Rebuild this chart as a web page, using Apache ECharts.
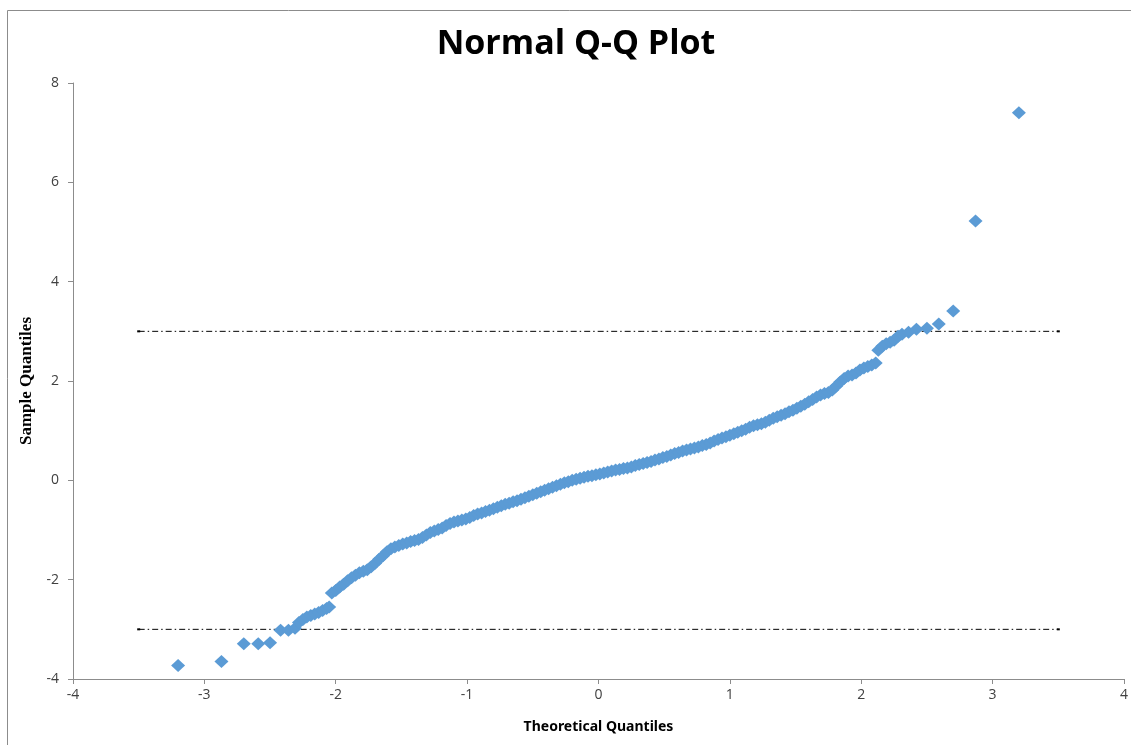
<!DOCTYPE html>
<html>
<head>
<meta charset="utf-8">
<style>
  html, body { margin: 0; padding: 0; background: #ffffff; }
  #chart { width: 1131px; height: 745px; }
</style>
<script src="https://cdn.jsdelivr.net/npm/echarts@6/dist/echarts.min.js"></script>
</head>
<body>
<div id="chart"></div>
<script>
// Theoretical quantiles (x) and ordered sample values (y)
const theoretical = [
  -3.20, -2.87, -2.70, -2.59, -2.50, -2.42, -2.36, -2.31,
  -2.28, -2.25, -2.22, -2.19, -2.16, -2.13, -2.10, -2.07, -2.05,
  -2.03, -2.00, -1.97, -1.94, -1.91, -1.88, -1.85, -1.82, -1.79, -1.76,
  -1.73, -1.70, -1.67, -1.64, -1.61, -1.58, -1.55, -1.52, -1.49, -1.46,
  -1.43, -1.40, -1.37, -1.34, -1.31, -1.28, -1.25, -1.22, -1.19, -1.16,
  -1.13, -1.10, -1.07, -1.04, -1.01, -0.98, -0.95, -0.92, -0.89, -0.86,
  -0.83, -0.80, -0.77, -0.74, -0.71, -0.68, -0.65, -0.62, -0.59, -0.56,
  -0.53, -0.50, -0.47, -0.44, -0.41, -0.38, -0.35, -0.32, -0.29, -0.26,
  -0.23, -0.20, -0.17, -0.14, -0.11, -0.08, -0.05, -0.02, 0.01, 0.04,
  0.07, 0.10, 0.13, 0.16, 0.19, 0.22, 0.25, 0.28, 0.31, 0.34,
  0.37, 0.40, 0.43, 0.46, 0.49, 0.52, 0.55, 0.58, 0.61, 0.64,
  0.67, 0.70, 0.73, 0.76, 0.79, 0.82, 0.85, 0.88, 0.91, 0.94,
  0.97, 1.00, 1.03, 1.06, 1.09, 1.12, 1.15, 1.18, 1.21, 1.24,
  1.27, 1.30, 1.33, 1.36, 1.39, 1.42, 1.45, 1.48, 1.51, 1.54,
  1.57, 1.60, 1.63, 1.66, 1.69, 1.72, 1.75, 1.78, 1.81, 1.84,
  1.87, 1.90, 1.93, 1.96, 1.99, 2.02, 2.05, 2.08, 2.11,
  2.13, 2.16, 2.19, 2.22, 2.25, 2.28, 2.31, 2.36, 2.42, 2.50,
  2.59, 2.70, 2.87, 3.20
];

const sample = [
  -3.73, -3.65, -3.29, -3.29, -3.27, -3.02, -3.02, -2.98,
  -2.86, -2.80, -2.75, -2.72, -2.69, -2.66, -2.62, -2.58, -2.55,
  -2.27, -2.22, -2.15, -2.09, -2.02, -1.96, -1.91, -1.86, -1.83, -1.80,
  -1.74, -1.67, -1.59, -1.52, -1.44, -1.38, -1.34, -1.31, -1.28, -1.26,
  -1.23, -1.21, -1.19, -1.15, -1.10, -1.05, -1.02, -0.99, -0.96, -0.91,
  -0.87, -0.84, -0.82, -0.80, -0.78, -0.75, -0.71, -0.68, -0.66, -0.63,
  -0.60, -0.57, -0.54, -0.51, -0.48, -0.46, -0.43, -0.41, -0.38, -0.35,
  -0.32, -0.29, -0.26, -0.23, -0.20, -0.17, -0.14, -0.11, -0.08, -0.05,
  -0.03, 0.00, 0.02, 0.04, 0.06, 0.08, 0.09, 0.11, 0.13, 0.15,
  0.17, 0.19, 0.21, 0.22, 0.24, 0.25, 0.27, 0.30, 0.32, 0.34,
  0.36, 0.38, 0.41, 0.43, 0.46, 0.48, 0.51, 0.54, 0.56, 0.59,
  0.61, 0.63, 0.65, 0.67, 0.70, 0.72, 0.75, 0.79, 0.82, 0.85,
  0.88, 0.91, 0.94, 0.97, 1.00, 1.03, 1.07, 1.10, 1.12, 1.14,
  1.17, 1.21, 1.25, 1.28, 1.31, 1.34, 1.38, 1.41, 1.45, 1.49,
  1.53, 1.58, 1.63, 1.68, 1.72, 1.75, 1.77, 1.82, 1.90, 1.98,
  2.05, 2.10, 2.12, 2.16, 2.22, 2.26, 2.29, 2.32, 2.36,
  2.62, 2.70, 2.75, 2.78, 2.82, 2.90, 2.94, 2.98, 3.04, 3.06,
  3.15, 3.41, 5.22, 7.40
];

// Horizontal reference bands at ±3
const refLevels = [3, -3];
const refRange = [-3.5, 3.5];

// Axis ranges and tick spacing
const xTicks = [-4, -3, -2, -1, 0, 1, 2, 3, 4];
const yTicks = [-4, -2, 0, 2, 4, 6, 8];

const points = theoretical.map((x, i) => [x, sample[i]]);

const refSeries = refLevels.map(level => ({
  type: 'line',
  data: refRange.map(x => [x, level]),
  symbol: 'rect',
  symbolSize: [3, 2],
  showSymbol: true,
  itemStyle: { color: '#000000' },
  lineStyle: { color: '#000000', width: 1, type: [6, 3, 1.5, 3] },
  silent: true,
  z: 1
}));

const chart = echarts.init(document.getElementById('chart'), null, { renderer: 'canvas' });

const axisLabelStyle = {
  color: '#404040',
  fontFamily: '"Open Sans", "Noto Sans", sans-serif',
  fontSize: 14
};

chart.setOption({
  animation: false,
  backgroundColor: '#ffffff',
  graphic: [{
    type: 'rect',
    shape: { x: 7.5, y: 10.5, width: 1300, height: 900 },
    style: { fill: 'none', stroke: '#8c8c8c', lineWidth: 1 },
    silent: true,
    z: -10
  }],
  title: {
    text: 'Normal Q-Q Plot',
    left: 571,
    top: 22,
    textAlign: 'center',
    textStyle: {
      fontFamily: '"Open Sans", "Noto Sans", sans-serif',
      fontWeight: 'bold',
      fontSize: 34,
      color: '#000000'
    }
  },
  grid: {
    left: 73,
    right: 2,
    top: 83,
    bottom: 66
  },
  xAxis: {
    type: 'value',
    min: xTicks[0],
    max: xTicks[xTicks.length - 1],
    interval: 1,
    name: 'Theoretical Quantiles',
    nameLocation: 'middle',
    nameGap: 41,
    nameTextStyle: {
      fontFamily: '"Noto Sans", "Open Sans", sans-serif',
      fontWeight: 'bold',
      fontSize: 14,
      color: '#000000'
    },
    axisLine: { show: true, onZero: false, lineStyle: { color: '#8c8c8c', width: 1 } },
    axisTick: { show: true, inside: false, length: 5, lineStyle: { color: '#8c8c8c' } },
    axisLabel: Object.assign({ margin: 9 }, axisLabelStyle),
    splitLine: { show: false }
  },
  yAxis: {
    type: 'value',
    min: yTicks[0],
    max: yTicks[yTicks.length - 1],
    interval: 2,
    name: 'Sample Quantiles',
    nameLocation: 'middle',
    nameGap: 34,
    nameRotate: 90,
    nameTextStyle: {
      fontFamily: '"Liberation Serif", "DejaVu Serif", serif',
      fontWeight: 'bold',
      fontSize: 17,
      color: '#000000'
    },
    axisLine: { show: true, onZero: false, lineStyle: { color: '#8c8c8c', width: 1 } },
    axisTick: { show: true, inside: false, length: 5, lineStyle: { color: '#8c8c8c' } },
    axisLabel: Object.assign({ margin: 14 }, axisLabelStyle),
    splitLine: { show: false }
  },
  series: refSeries.concat([{
    type: 'scatter',
    data: points,
    symbol: 'diamond',
    symbolSize: [14, 13],
    itemStyle: { color: '#5B9BD5', opacity: 1 },
    z: 5
  }])
});
</script>
</body>
</html>
